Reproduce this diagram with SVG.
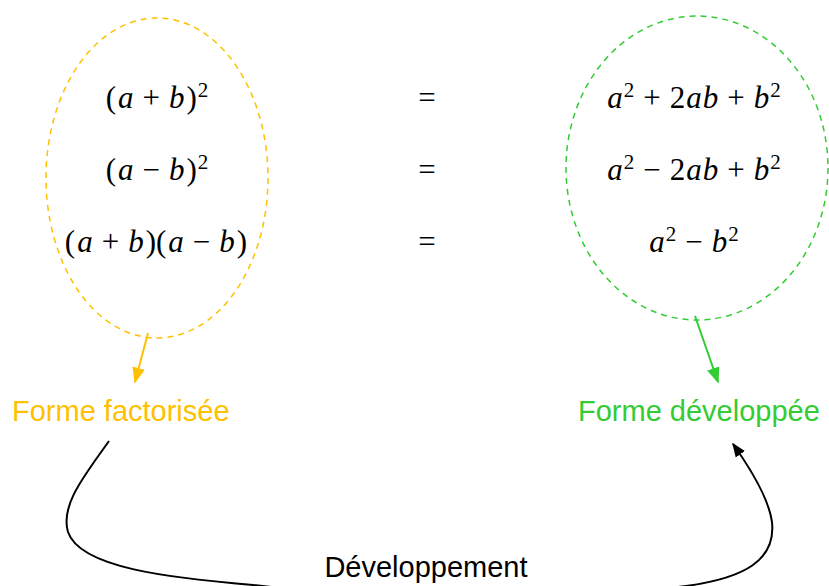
<svg xmlns="http://www.w3.org/2000/svg" width="829" height="586" viewBox="0 0 829 586">
<style>
.m{font-family:"Liberation Serif","Times New Roman",serif;font-size:31px;fill:#000;text-anchor:middle}
.i{font-style:italic}
.s{font-size:21px}
.lbl{font-family:"Liberation Sans",Arial,sans-serif;font-size:29px}
</style>
<defs>
<marker id="ao" viewBox="0 0 10 8" refX="9" refY="4" markerWidth="8" markerHeight="6.5" orient="auto"><path d="M0,0L10,4L0,8z" fill="#FFC000"/></marker>
<marker id="ag" viewBox="0 0 10 8" refX="9" refY="4" markerWidth="8" markerHeight="6.5" orient="auto"><path d="M0,0L10,4L0,8z" fill="#33CC33"/></marker>
<marker id="ak" viewBox="0 0 10 8" refX="9" refY="4" markerWidth="7" markerHeight="6" orient="auto"><path d="M0,0L10,4L0,8z" fill="#000"/></marker>
</defs>
<g id="factorise">
<ellipse cx="157" cy="178" rx="111" ry="160" fill="none" stroke="#FFC000" stroke-width="1.5" stroke-dasharray="6,5"/>
<text class="m" x="157" y="108">(<tspan class="i" dx="2">a</tspan><tspan dx="9">+</tspan><tspan class="i" dx="9">b</tspan><tspan dx="2">)</tspan><tspan class="s" dy="-11" dx="1">2</tspan></text>
<text class="m" x="157" y="180">(<tspan class="i" dx="2">a</tspan><tspan dx="9">−</tspan><tspan class="i" dx="9">b</tspan><tspan dx="2">)</tspan><tspan class="s" dy="-11" dx="1">2</tspan></text>
<text class="m" x="156" y="252">(<tspan class="i" dx="2">a</tspan><tspan dx="9">+</tspan><tspan class="i" dx="9">b</tspan><tspan dx="2">)(</tspan><tspan class="i" dx="2">a</tspan><tspan dx="9">−</tspan><tspan class="i" dx="9">b</tspan><tspan dx="2">)</tspan></text>
<text class="lbl" x="12" y="421" fill="#FFC000">Forme factorisée</text>
</g>
<g id="egal">
<text class="m" x="427" y="108">=</text>
<text class="m" x="427" y="180">=</text>
<text class="m" x="427" y="252">=</text>
</g>
<g id="developpe">
<ellipse cx="697" cy="168" rx="131" ry="152" fill="none" stroke="#33CC33" stroke-width="1.5" stroke-dasharray="6,5"/>
<text class="m" x="694" y="108"><tspan class="i">a</tspan><tspan class="s" dy="-11" dx="1">2</tspan><tspan dy="11" dx="9">+</tspan><tspan dx="9">2</tspan><tspan class="i" dx="1">a</tspan><tspan class="i" dx="1">b</tspan><tspan dx="9">+</tspan><tspan class="i" dx="9">b</tspan><tspan class="s" dy="-11" dx="1">2</tspan></text>
<text class="m" x="694" y="180"><tspan class="i">a</tspan><tspan class="s" dy="-11" dx="1">2</tspan><tspan dy="11" dx="9">−</tspan><tspan dx="9">2</tspan><tspan class="i" dx="1">a</tspan><tspan class="i" dx="1">b</tspan><tspan dx="9">+</tspan><tspan class="i" dx="9">b</tspan><tspan class="s" dy="-11" dx="1">2</tspan></text>
<text class="m" x="694" y="252"><tspan class="i">a</tspan><tspan class="s" dy="-11" dx="1">2</tspan><tspan dy="11" dx="9">−</tspan><tspan class="i" dx="9">b</tspan><tspan class="s" dy="-11" dx="1">2</tspan></text>
<text class="lbl" x="578" y="421" fill="#33CC33">Forme développée</text>
</g>
<g id="connectors" fill="none">
<line x1="148" y1="333" x2="135" y2="382" stroke="#FFC000" stroke-width="2" marker-end="url(#ao)"/>
<line x1="695" y1="316" x2="718" y2="382" stroke="#33CC33" stroke-width="2" marker-end="url(#ag)"/>
<path d="M109,441 C85,475 60,505 68,532 C80,568 170,578 253,585 C400,602 560,602 686,586 C745,578 776,560 772,522 C769,500 755,475 733,444" stroke="#000" stroke-width="2" marker-end="url(#ak)"/>
</g>
<g id="label-developpement">
<rect x="315" y="548" width="220" height="38" fill="#fff"/>
<text class="lbl" x="426" y="577" text-anchor="middle" fill="#000">Développement</text>
</g>
</svg>
